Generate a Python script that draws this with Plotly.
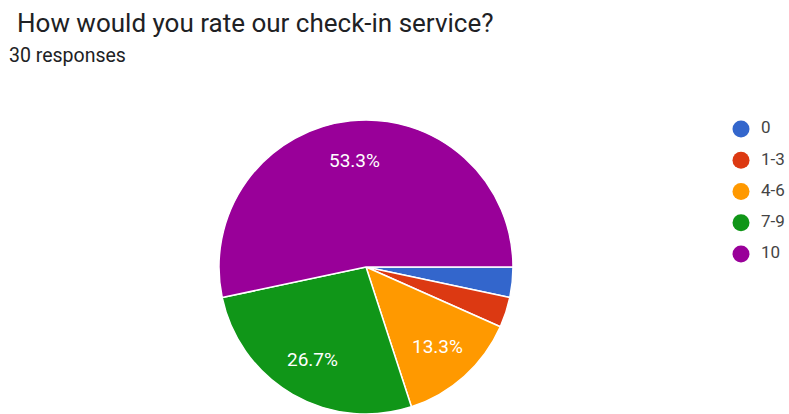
import math
import plotly.graph_objects as go

# Survey results: "How would you rate our check-in service?"
categories = ["0", "1-3", "4-6", "7-9", "10"]
counts = [1, 1, 4, 8, 16]
colors = ["#3366CC", "#DC3912", "#FF9900", "#109618", "#990099"]
total_responses = 30
title_text = "How would you rate our check-in service?"

W, H = 789, 414
TOP = 120                      # top margin; the pie fills the rest
PLOT_H = H - TOP
PIE_CX = 366                   # horizontal centre of the pie (px)
PIE_R = PLOT_H / 2
START_DEG = 90                 # first slice starts at 3 o'clock
MIN_LABEL_SHARE = 0.05         # slices smaller than this get no label
LABEL_RADIUS = 0.73            # label distance from centre, fraction of radius

fig = go.Figure()

fig.add_trace(go.Pie(
    labels=categories,
    values=counts,
    sort=False,
    direction="clockwise",
    rotation=START_DEG,
    marker=dict(colors=colors, line=dict(color="white", width=1.5)),
    textinfo="none",
    showlegend=False,
    hoverinfo="label+value+percent",
    domain=dict(x=[(PIE_CX - PIE_R) / W, (PIE_CX + PIE_R) / W], y=[0, 1]),
))

# Legend drawn as a small marker column on its own hidden axes
fig.add_trace(go.Scatter(
    x=[0] * len(categories), y=list(range(len(categories))),
    mode="markers", xaxis="x2", yaxis="y2", hoverinfo="skip",
    marker=dict(symbol="circle", size=17, color=colors),
    showlegend=False,
))
fig.add_trace(go.Scatter(
    x=[1] * len(categories), y=list(range(len(categories))),
    mode="text", text=categories, textposition="middle right",
    xaxis="x2", yaxis="y2", hoverinfo="skip",
    textfont=dict(family="Roboto", size=17, color="#444444"),
    showlegend=False,
))

# Percent labels placed along each slice's mid-angle
total = sum(counts)
cy = TOP + PIE_R
annotations = []
acc = 0
for name, v in zip(categories, counts):
    share = v / total
    mid = math.radians(START_DEG + 360 * (acc + v / 2) / total)
    acc += v
    if share < MIN_LABEL_SHARE:
        continue
    px = PIE_CX + LABEL_RADIUS * PIE_R * math.sin(mid)
    py = cy - LABEL_RADIUS * PIE_R * math.cos(mid)
    annotations.append(dict(
        text=f"{share * 100:.1f}%", x=px / W, y=(H - py) / PLOT_H,
        xref="paper", yref="paper", showarrow=False,
        xanchor="center", yanchor="middle",
        font=dict(family="Roboto", size=19, color="white"),
    ))

# Header texts
annotations.append(dict(
    text=title_text, x=15 / W, y=(H - 6) / PLOT_H,
    xref="paper", yref="paper", showarrow=False,
    xanchor="left", yanchor="top",
    font=dict(family="Roboto", size=26, color="#202124"),
))
annotations.append(dict(
    text=f"{total_responses} responses", x=7 / W, y=(H - 42) / PLOT_H,
    xref="paper", yref="paper", showarrow=False,
    xanchor="left", yanchor="top",
    font=dict(family="Roboto", size=19.5, color="#202124"),
))

fig.update_layout(
    width=W, height=H,
    margin=dict(l=0, r=0, t=TOP, b=0, autoexpand=False),
    paper_bgcolor="white",
    plot_bgcolor="white",
    showlegend=False,
    xaxis=dict(visible=False),
    yaxis=dict(visible=False),
    xaxis2=dict(visible=False, domain=[700 / W, 1], range=[-2.05, 2.4],
                anchor="y2"),
    yaxis2=dict(visible=False, domain=[0, 1], range=[9.13, -0.29],
                anchor="x2"),
    annotations=annotations,
)

fig.write_html("out.html")
